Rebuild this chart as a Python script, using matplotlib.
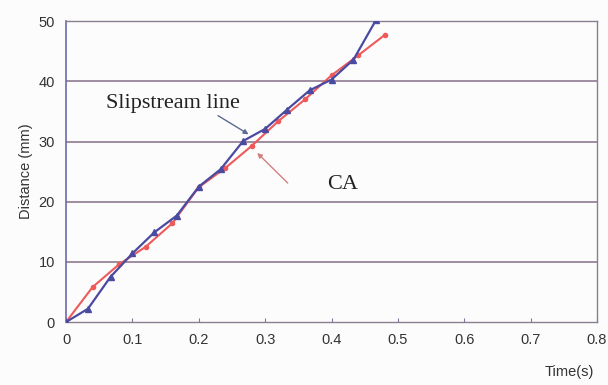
import matplotlib
matplotlib.use("Agg")
import matplotlib.pyplot as plt

plt.rcParams["font.family"] = ["Liberation Sans", "DejaVu Sans"]

# Data
t_slip = [0, 0.033, 0.067, 0.1, 0.133, 0.167, 0.2, 0.233, 0.267, 0.3, 0.333, 0.367, 0.4, 0.433, 0.467]
d_slip = [0, 2.2, 7.5, 11.4, 14.9, 17.7, 22.5, 25.4, 30.1, 32.1, 35.3, 38.5, 40.3, 43.6, 50.2]

t_ca = [0, 0.04, 0.08, 0.12, 0.16, 0.2, 0.24, 0.28, 0.32, 0.36, 0.4, 0.44, 0.48]
d_ca = [0, 5.8, 9.6, 12.5, 16.4, 22.4, 25.6, 29.3, 33.4, 37.0, 41.0, 44.3, 47.7]

xticks = [0, 0.1, 0.2, 0.3, 0.4, 0.5, 0.6, 0.7, 0.8]
xtick_labels = ["0", "0.1", "0.2", "0.3", "0.4", "0.5", "0.6", "0.7", "0.8"]
yticks = [0, 10, 20, 30, 40, 50]

fig = plt.figure(figsize=(6.08, 3.85), dpi=100, facecolor="#fdfcfd")
ax = fig.add_axes([0.1086, 0.1636, 0.8734, 0.7814])
ax.set_facecolor("#fdfcfd")

for y in yticks[1:]:
    ax.axhline(y, color="#8e7890", lw=1.2, zorder=1)

ax.plot(t_ca, d_ca, color="#ee5a5a", lw=1.5, marker="o", ms=3, zorder=3)
ax.plot(t_slip, d_slip, color="#4a4aa0", lw=1.6, marker="^", ms=4, zorder=4)

ax.set_xlim(0, 0.8)
ax.set_ylim(0, 50)
ax.set_xticks(xticks)
ax.set_xticklabels(xtick_labels)
ax.set_yticks(yticks)
ax.tick_params(axis="x", direction="in", length=3, color="#7a7a9a", labelsize=10.5, pad=8, labelcolor="#333333")
ax.tick_params(axis="y", length=0, labelsize=10.5, pad=8, labelcolor="#333333")

for side in ["top", "right", "bottom"]:
    ax.spines[side].set_color("#8a7f90")
    ax.spines[side].set_linewidth(1.0)
ax.spines["left"].set_color("#6a6aa8")
ax.spines["left"].set_linewidth(1.2)

ax.set_ylabel("Distance (mm)", fontsize=10.5, color="#333333", labelpad=4)
fig.text(0.937, 0.033, "Time(s)", fontsize=10.5, color="#333333", ha="center", va="center")

ax.text(0.161, 36.4, "Slipstream line", fontsize=16, family="Liberation Serif",
        color="#222222", ha="center", va="center")
ax.text(0.417, 22.8, "CA", fontsize=16, family="Liberation Serif",
        color="#222222", ha="center", va="center")
ax.annotate("", xy=(0.275, 31.2), xytext=(0.229, 34.3),
            arrowprops=dict(arrowstyle="-|>", color="#5a6a90", lw=1.0, mutation_scale=7,
                            shrinkA=0, shrinkB=0))
ax.annotate("", xy=(0.288, 28.1), xytext=(0.334, 23.1),
            arrowprops=dict(arrowstyle="-|>", color="#d08080", lw=1.0, mutation_scale=7,
                            shrinkA=0, shrinkB=0))

fig.savefig("out.png", dpi=100, facecolor=fig.get_facecolor())
